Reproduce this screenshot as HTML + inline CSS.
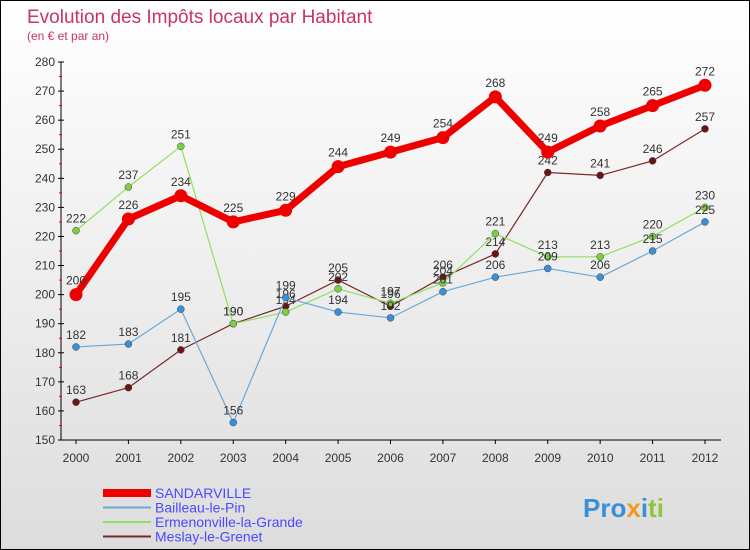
<!DOCTYPE html>
<html><head><meta charset="utf-8"><style>
body{margin:0}
#c{width:748px;height:548px;border:1px solid #000;background:linear-gradient(#fff,#ddd);position:relative;font-family:"Liberation Sans",sans-serif;overflow:hidden}
</style></head><body>
<div id="c">
<svg width="748" height="548" id="s">
<text x="26" y="22" font-size="19" fill="#c8336a">Evolution des Impôts locaux par Habitant</text>
<text x="26" y="39" font-size="12" fill="#c8336a">(en € et par an)</text>
<g id="ax"></g><g id="series"></g><g id="legend"></g>
<text x="582" y="516" font-size="26" font-weight="bold"><tspan fill="#3a8fd8">Pro</tspan><tspan fill="#f29a1e">x</tspan><tspan fill="#3a8fd8">i</tspan><tspan fill="#8cc63f">ti</tspan></text>
</svg></div>
<script>
const years=[2000,2001,2002,2003,2004,2005,2006,2007,2008,2009,2010,2011,2012];
const sandarville=[200,226,234,225,229,244,249,254,268,249,258,265,272];
const bailleau=[182,183,195,156,199,194,192,201,206,209,206,215,225];
const ermenonville=[222,237,251,190,194,202,197,204,221,213,213,220,230];
const meslay=[163,168,181,190,196,205,196,206,214,242,241,246,257];
const yTicks=[150,160,170,180,190,200,210,220,230,240,250,260,270,280];
const NS="http://www.w3.org/2000/svg";
const x=i=>75+i*(629/12);
const y=v=>439-(v-150)*(378/130);
function mk(t,a,p){const e=document.createElementNS(NS,t);for(const k in a)e.setAttribute(k,a[k]);p.appendChild(e);return e;}
const ax=document.getElementById('ax');
let l=mk('line',{x1:60,y1:y(280),x2:60,y2:y(150),stroke:'#000'},ax);


l=mk('line',{x1:60,y1:y(150),x2:720,y2:y(150),stroke:'#000'},ax);


yTicks.forEach(v=>{mk('line',{x1:57,x2:63,y1:y(v),y2:y(v),stroke:'#000'},ax);
 if(v<280)mk('line',{x1:58,x2:61,y1:y(v+5),y2:y(v+5),stroke:'#e00'},ax);
 const t=mk('text',{x:54,y:y(v)+4,'font-size':12,'text-anchor':'end',fill:'#333'},ax);t.textContent=v;
 
 });
years.forEach((yr,i)=>{mk('line',{x1:x(i),x2:x(i),y1:y(150),y2:y(150)+4,stroke:'#000'},ax);
 const t=mk('text',{x:x(i),y:y(150)+22,'font-size':12,'text-anchor':'middle',fill:'#333'},ax);t.textContent=yr;
 
 });
const S=[
 {n:'Meslay-le-Grenet',d:meslay,c:'#7a2a2a',m:'#6b1414',w:1.2,r:3.5,k:'meslay'},
 {n:'Ermenonville-la-Grande',d:ermenonville,c:'#90e060',m:'#7ad040',w:1.2,r:3.5,k:'ermenonville'},
 {n:'Bailleau-le-Pin',d:bailleau,c:'#6aa8d8',m:'#3a8fd8',w:1.2,r:3.5,k:'bailleau'},
 {n:'SANDARVILLE',d:sandarville,c:'#ee0000',m:'#ee0000',w:7,r:6.5,k:'sandarville'}];
const sg=document.getElementById('series');
S.forEach(s=>{const g=mk('g',{},sg);
 
 
 const p=mk('polyline',{points:s.d.map((v,i)=>x(i)+','+y(v)).join(' '),fill:'none',stroke:s.c,'stroke-width':s.w,'stroke-linejoin':'round'},g);
 
 
 s.d.forEach((v,i)=>{const c=mk('circle',{cx:x(i),cy:y(v),r:s.r,fill:s.m,stroke:s.r>5?'none':'#444','stroke-width':0.5},g);
  
  
  const t=mk('text',{x:x(i),y:y(v)-(s.r>5?10:8),'font-size':12,'text-anchor':'middle',fill:'#333'},g);t.textContent=v;
  
  });});
const lg=document.getElementById('legend');
[S[3],S[2],S[1],S[0]].forEach((s,i)=>{const yy=492+i*14.5;const g=mk('g',{},lg);
 
 
 mk('line',{x1:102,x2:150,y1:yy,y2:yy,stroke:s.c,'stroke-width':s.w>3?8:2},g);
 const t=mk('text',{x:154,y:yy+5,'font-size':14,fill:'#4a4aff'},g);t.textContent=s.n;});
</script></body></html>
